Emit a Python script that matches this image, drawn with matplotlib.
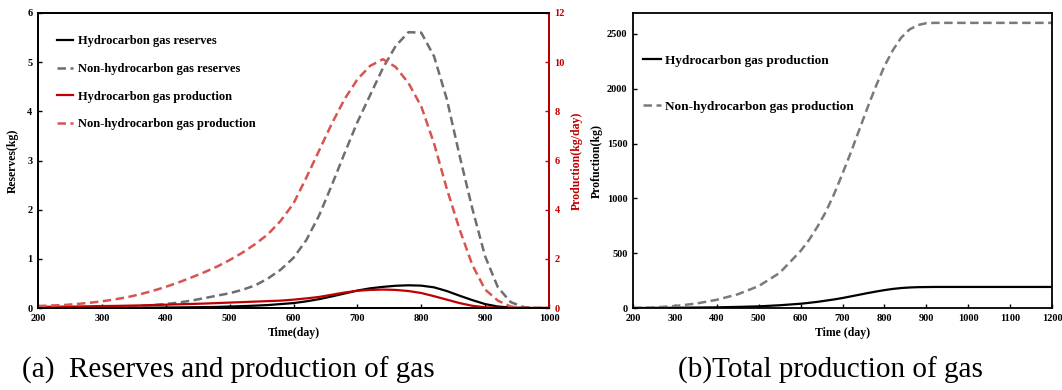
import matplotlib
matplotlib.use("Agg")
import matplotlib.pyplot as plt

# ---------------- data ----------------
# (a) reserves (kg, left axis) and production rate (kg/day, right axis)
days_a = [200, 220, 240, 260, 280, 300, 320, 340, 360, 380, 400, 420, 440, 460, 480, 500,
          520, 540, 560, 580, 600, 620, 640, 660, 680, 700, 720, 740, 760, 780, 800,
          820, 840, 860, 880, 900, 920, 940, 960, 980, 1000]
hc_reserves = [0.0, 0.0, 0.0, 0.002, 0.003, 0.004, 0.005, 0.006, 0.007, 0.008, 0.01, 0.012, 0.015, 0.018,
               0.022, 0.03, 0.038, 0.048, 0.06, 0.08, 0.10, 0.135, 0.18, 0.235, 0.295, 0.355, 0.40, 0.43,
               0.452, 0.462, 0.455, 0.42, 0.345, 0.25, 0.16, 0.08, 0.03, 0.01, 0.0, 0.0, 0.0]
nonhc_reserves = [0.0, 0.0, 0.0, 0.003, 0.006, 0.01, 0.015, 0.025, 0.04, 0.06, 0.08, 0.11, 0.15, 0.2,
                  0.25, 0.3, 0.37, 0.46, 0.6, 0.78, 1.02, 1.38, 1.88, 2.5, 3.15, 3.78, 4.33, 4.88,
                  5.33, 5.61, 5.6, 5.12, 4.25, 3.1, 2.02, 1.05, 0.42, 0.12, 0.02, 0.0, 0.0]
hc_rate = [0.05, 0.05, 0.055, 0.06, 0.07, 0.08, 0.085, 0.095, 0.105, 0.12, 0.135, 0.15, 0.165, 0.18,
           0.2, 0.22, 0.24, 0.26, 0.28, 0.3, 0.34, 0.39, 0.45, 0.54, 0.63, 0.70, 0.735, 0.75,
           0.735, 0.69, 0.61, 0.48, 0.34, 0.2, 0.09, 0.03, 0.01, 0.0, 0.0, 0.0, 0.0]
nonhc_rate = [0.08, 0.10, 0.12, 0.16, 0.21, 0.27, 0.35, 0.44, 0.56, 0.70, 0.86, 1.04, 1.24, 1.45,
              1.68, 1.95, 2.25, 2.6, 3.0, 3.55, 4.25, 5.3, 6.4, 7.5, 8.5, 9.3, 9.85, 10.12,
              9.8, 9.15, 8.2, 6.7, 4.85, 3.2, 1.75, 0.75, 0.3, 0.06, 0.0, 0.0, 0.0]

# (b) cumulative production (kg)
days_b = [200, 250, 300, 350, 400, 450, 500, 550, 600, 620, 640, 660, 680, 700, 720, 740, 760,
          780, 800, 820, 840, 860, 880, 900, 920, 1000, 1100, 1200]
hc_total = [0, 1, 2, 4, 6, 10, 15, 25, 39, 47, 56, 67, 78, 91, 106, 121, 136, 150, 163, 174, 182,
            187, 190, 191, 192, 192, 192, 192]
nonhc_total = [0, 5, 18, 40, 75, 125, 200, 320, 520, 620, 740, 875, 1040, 1225, 1420, 1625, 1830,
               2025, 2205, 2350, 2465, 2540, 2580, 2597, 2600, 2600, 2600, 2600]

xticks_a = [200, 300, 400, 500, 600, 700, 800, 900, 1000]
xticks_b = [200, 300, 400, 500, 600, 700, 800, 900, 1000, 1100, 1200]

# ---------------- style ----------------
plt.rcParams['font.family'] = ['Liberation Serif', 'DejaVu Serif']
plt.rcParams['font.weight'] = 'bold'
plt.rcParams['axes.labelweight'] = 'bold'

RED = '#c00000'
LRED = '#d9534f'
GRAY = '#6e6e6e'
W, H = 1062, 390

fig = plt.figure(figsize=(W / 100, H / 100), dpi=100)

def rect(l, t, r, b):
    return [l / W, 1 - b / H, (r - l) / W, (b - t) / H]

tick_fs = 7.5
lab_fs = 8.5

# ---------- panel (a) ----------
ax1 = fig.add_axes(rect(38, 13, 549, 308))
ax2 = ax1.twinx()
l1, = ax1.plot(days_a, hc_reserves, color='black', lw=1.6)
l2, = ax1.plot(days_a, nonhc_reserves, color=GRAY, lw=1.8, dashes=(3.4, 1.8))
l3, = ax2.plot(days_a, hc_rate, color=RED, lw=1.6)
l4, = ax2.plot(days_a, nonhc_rate, color=LRED, lw=1.8, dashes=(3.4, 1.8))

ax1.set_xlim(200, 1000)
ax1.set_ylim(0, 6)
ax2.set_ylim(0, 12)
ax1.set_xticks(xticks_a)
ax1.set_yticks(range(0, 7))
ax2.set_yticks(range(0, 13, 2))
ax1.tick_params(direction='in', length=3, width=1, labelsize=tick_fs, pad=4)
ax2.tick_params(direction='in', length=3, width=1, labelsize=tick_fs, pad=4,
                colors=RED, labelcolor=RED)
for s in ax1.spines.values():
    s.set_linewidth(1.3)
for s in ax2.spines.values():
    s.set_linewidth(1.3)
ax2.spines['right'].set_color(RED)
ax1.set_xlabel('Time(day)', fontsize=lab_fs, labelpad=3)
ax1.set_ylabel('Reserves(kg)', fontsize=lab_fs, labelpad=6)
ax2.set_ylabel('Production(kg/day)', fontsize=lab_fs, color=RED, labelpad=4)

ax2.legend([l1, l2, l3, l4],
           ['Hydrocarbon gas reserves', 'Non-hydrocarbon gas reserves',
            'Hydrocarbon gas production', 'Non-hydrocarbon gas production'],
           loc='upper left', bbox_to_anchor=(0.023, 0.95), frameon=False,
           fontsize=9, handlelength=1.25, handletextpad=0.4, labelspacing=1.26,
           borderaxespad=0.2)

# ---------- panel (b) ----------
ax3 = fig.add_axes(rect(633, 13, 1052, 308))
m1, = ax3.plot(days_b, hc_total, color='black', lw=1.6)
m2, = ax3.plot(days_b, nonhc_total, color='#7a7a7a', lw=1.8, dashes=(3.4, 1.8))
ax3.set_xlim(200, 1200)
ax3.set_ylim(0, 2690)
ax3.set_xticks(xticks_b)
ax3.set_yticks([0, 500, 1000, 1500, 2000, 2500])
ax3.tick_params(direction='in', length=3, width=1, labelsize=tick_fs, pad=4)
for s in ax3.spines.values():
    s.set_linewidth(1.3)
ax3.set_xlabel('Time (day)', fontsize=lab_fs, labelpad=3)
ax3.set_ylabel('Profuction(kg)', fontsize=lab_fs, labelpad=3)
ax3.legend([m1, m2], ['Hydrocarbon gas production', 'Non-hydrocarbon gas production'],
           loc='upper left', bbox_to_anchor=(0.005, 0.885), frameon=False,
           fontsize=9.5, handlelength=1.35, handletextpad=0.35, labelspacing=2.55,
           borderaxespad=0.2)

# ---------- captions ----------
fig.text(228 / W, 1 - 370 / H, '(a)  Reserves and production of gas', ha='center', va='center',
         fontsize=21, fontweight='normal')
fig.text(830 / W, 1 - 370 / H, '(b)Total production of gas', ha='center', va='center',
         fontsize=21, fontweight='normal')

fig.savefig('out.png', dpi=100)
